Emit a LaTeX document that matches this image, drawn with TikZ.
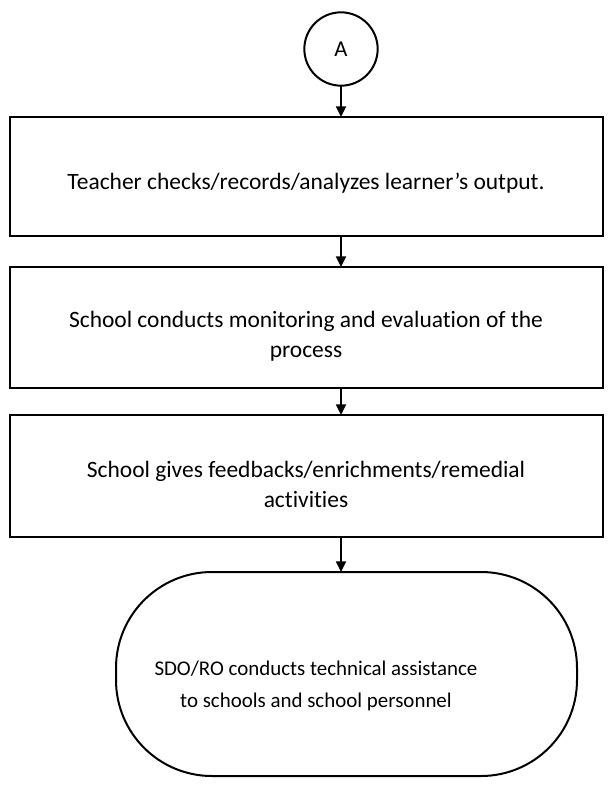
\documentclass[tikz,border=0pt]{standalone}
\usepackage{fontspec}
\setmainfont{Carlito}[Ligatures=NoCommon]
\usetikzlibrary{arrows.meta}
\begin{document}
\begin{tikzpicture}[x=0.75pt,y=-0.75pt,
  every node/.style={inner sep=0pt,outer sep=0pt},
  box/.style={draw,line width=1.5pt,minimum width=444.75pt},
  circ/.style={draw,circle,line width=1.5pt,minimum size=55pt,font=\fontsize{17}{20}\selectfont},
  txt/.style={align=center,font=\fontsize{17.6}{22.5}\selectfont},
  stxt/.style={align=center,font=\fontsize{15.7}{24.5}\selectfont},
  stad/.style={draw,line width=1.5pt,rounded corners=72pt,minimum width=345.75pt,minimum height=153pt},
  arr/.style={line width=1.3pt,-{Triangle[length=8pt,width=7.5pt]}}]
\useasboundingbox (0,0) rectangle (607,810);
\node[circ] (A) at (341,49) {A};
\node[box,minimum height=89.25pt] (b1) at (306.5,176.5) {};
\node[txt] (t1) at (306,183) {Teacher checks/records/analyzes learner’s output.};
\node[box,minimum height=90.75pt] (b2) at (306.5,327.5) {};
\node[txt] (t2) at (306,336) {School conducts monitoring and evaluation of the\\process};
\node[box,minimum height=91.5pt] (b3) at (306.5,476) {};
\node[txt] (t3) at (306,484) {School gives feedbacks/enrichments/remedial\\activities};
\node[stad] (s) at (346.5,674) {};
\node[stxt] (t4) at (316,686) {SDO/RO conducts technical assistance\\to schools and school personnel};
\draw[arr] (A.south) -- (A.south |- b1.north);
\draw[arr] (b1.south -| A) -- (b2.north -| A);
\draw[arr] (b2.south -| A) -- (b3.north -| A);
\draw[arr] (b3.south -| A) -- (s.north -| A);
\end{tikzpicture}
\end{document}
